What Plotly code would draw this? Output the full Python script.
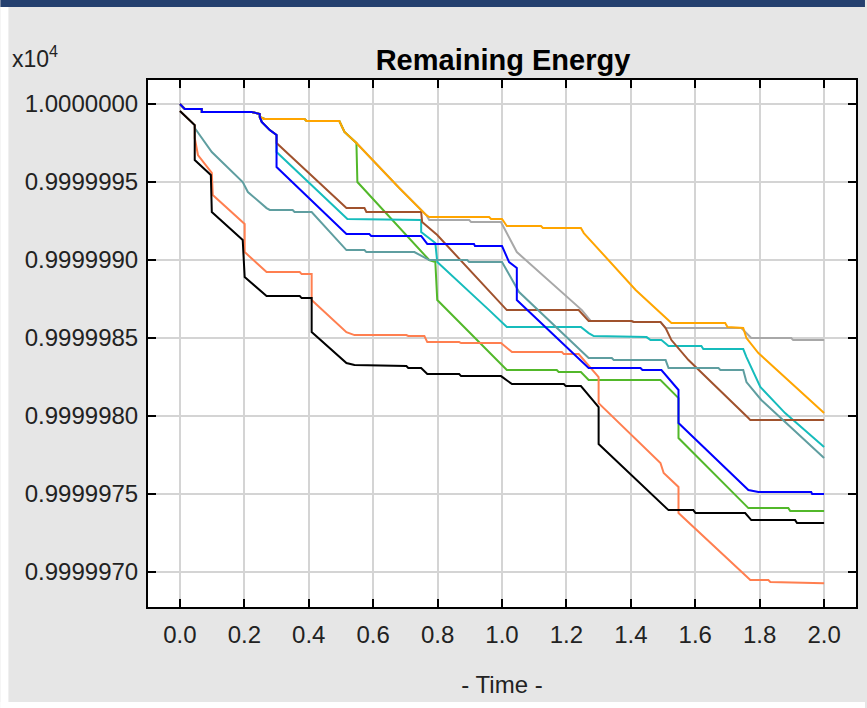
import plotly.graph_objects as go

# time (s) and consumed energy (mJ) for each node; remaining energy = 10000 J - consumed
blue_t = [0, 0.015, 0.068, 0.068, 0.223, 0.248, 0.248, 0.254, 0.279, 0.300, 0.300, 0.517, 0.588, 0.594, 0.749, 0.768, 0.913, 0.916, 1.0, 1.022, 1.046, 1.046, 1.269, 1.430, 1.436, 1.495, 1.548, 1.548, 1.765, 1.796, 1.960, 1.963, 2.0]
blue_c = [0, 0.32, 0.32, 0.51, 0.51, 0.64, 0.83, 1.15, 1.67, 1.99, 4.04, 8.33, 8.33, 8.46, 8.46, 8.97, 8.97, 9.10, 9.10, 10.13, 10.51, 12.56, 16.92, 16.92, 17.05, 17.05, 18.33, 20.45, 24.74, 24.87, 24.87, 25.00, 25.00]

orange_t = [0, 0.015, 0.068, 0.068, 0.223, 0.248, 0.248, 0.263, 0.387, 0.393, 0.495, 0.511, 0.548, 0.681, 0.765, 0.774, 0.960, 0.966, 1.000, 1.015, 1.121, 1.127, 1.245, 1.254, 1.415, 1.526, 1.693, 1.700, 1.749, 1.759, 1.796, 2.0]
orange_c = [0, 0.32, 0.32, 0.51, 0.51, 0.64, 0.83, 0.96, 0.96, 1.09, 1.09, 1.79, 2.50, 5.38, 7.12, 7.24, 7.24, 7.37, 7.37, 7.82, 7.82, 7.95, 7.95, 8.27, 11.92, 14.04, 14.04, 14.29, 14.36, 15.00, 15.96, 19.81]

gray_t = [0, 0.015, 0.068, 0.068, 0.223, 0.248, 0.248, 0.263, 0.387, 0.393, 0.495, 0.511, 0.548, 0.681, 0.765, 0.774, 0.898, 0.904, 0.997, 1.0, 1.046, 1.248, 1.276, 1.402, 1.409, 1.492, 1.508, 1.743, 1.774, 1.898, 1.904, 2.0]
gray_c = [0, 0.32, 0.32, 0.51, 0.51, 0.64, 0.83, 0.96, 0.96, 1.09, 1.09, 1.79, 2.50, 5.38, 7.12, 7.44, 7.44, 7.56, 7.56, 7.69, 9.49, 13.21, 13.91, 13.91, 13.97, 13.97, 14.36, 14.36, 15.00, 15.00, 15.13, 15.13]

green_t = [0, 0.015, 0.068, 0.068, 0.223, 0.248, 0.248, 0.263, 0.387, 0.393, 0.495, 0.511, 0.548, 0.551, 0.774, 0.793, 0.799, 1.015, 1.170, 1.176, 1.245, 1.269, 1.492, 1.548, 1.548, 1.765, 1.889, 1.895, 2.0]
green_c = [0, 0.32, 0.32, 0.51, 0.51, 0.64, 0.83, 0.96, 0.96, 1.09, 1.09, 1.79, 2.50, 5.00, 10.00, 10.13, 12.56, 17.05, 17.05, 17.18, 17.18, 17.69, 17.69, 18.85, 21.41, 25.90, 25.90, 26.09, 26.09]

brown_t = [0, 0.015, 0.068, 0.068, 0.223, 0.248, 0.248, 0.254, 0.279, 0.300, 0.300, 0.517, 0.573, 0.579, 0.749, 0.752, 0.799, 1.012, 1.015, 1.238, 1.269, 1.402, 1.409, 1.492, 1.508, 1.526, 1.579, 1.765, 1.771, 2.0]
brown_c = [0, 0.32, 0.32, 0.51, 0.51, 0.64, 0.83, 1.15, 1.67, 1.99, 2.50, 6.67, 6.67, 6.92, 6.92, 7.56, 8.40, 13.08, 13.21, 13.21, 13.91, 13.91, 13.97, 13.97, 14.36, 15.13, 16.41, 20.13, 20.26, 20.26]

cyan_t = [0, 0.015, 0.068, 0.068, 0.223, 0.248, 0.248, 0.254, 0.279, 0.300, 0.300, 0.520, 0.749, 0.749, 0.793, 0.799, 0.960, 1.015, 1.245, 1.269, 1.285, 1.449, 1.461, 1.495, 1.517, 1.619, 1.625, 1.749, 1.759, 1.802, 1.879, 2.0]
cyan_c = [0, 0.32, 0.32, 0.51, 0.51, 0.64, 0.83, 1.15, 1.67, 1.99, 3.08, 7.37, 7.44, 8.21, 8.91, 10.13, 13.21, 14.29, 14.29, 14.68, 14.87, 14.94, 15.13, 15.13, 15.51, 15.51, 15.71, 15.71, 16.22, 18.14, 19.81, 21.99]

cadet_t = [0, 0.046, 0.046, 0.099, 0.195, 0.211, 0.269, 0.279, 0.350, 0.356, 0.409, 0.517, 0.573, 0.579, 0.728, 0.774, 0.892, 0.898, 1.0, 1.053, 1.269, 1.341, 1.347, 1.508, 1.517, 1.672, 1.678, 1.749, 1.759, 1.805, 2.0]
cadet_c = [0.45, 1.35, 1.54, 3.08, 5.00, 5.64, 6.67, 6.79, 6.79, 6.92, 6.92, 9.36, 9.36, 9.49, 9.49, 10.00, 10.00, 10.13, 10.13, 12.05, 16.28, 16.28, 16.41, 16.41, 16.92, 16.92, 17.05, 17.05, 17.82, 18.97, 22.69]

salmon_t = [0, 0.046, 0.046, 0.056, 0.099, 0.102, 0.201, 0.201, 0.269, 0.372, 0.378, 0.409, 0.409, 0.517, 0.542, 0.703, 0.709, 0.759, 0.768, 0.867, 0.873, 0.997, 1.031, 1.186, 1.192, 1.238, 1.300, 1.300, 1.492, 1.502, 1.548, 1.548, 1.771, 1.827, 1.833, 2.0]
salmon_c = [0.45, 1.35, 2.18, 3.27, 4.42, 5.83, 7.69, 9.49, 10.77, 10.77, 10.90, 10.90, 12.56, 14.62, 14.81, 14.81, 14.87, 14.87, 15.26, 15.26, 15.32, 15.32, 15.90, 15.90, 16.03, 16.03, 17.50, 19.17, 23.01, 23.65, 24.55, 26.22, 30.51, 30.51, 30.64, 30.71]

black_t = [0, 0.046, 0.046, 0.096, 0.099, 0.195, 0.201, 0.269, 0.372, 0.378, 0.409, 0.409, 0.517, 0.542, 0.703, 0.709, 0.749, 0.768, 0.867, 0.873, 0.997, 1.031, 1.192, 1.198, 1.245, 1.300, 1.300, 1.517, 1.594, 1.601, 1.755, 1.774, 1.910, 1.916, 2.0]
black_c = [0.45, 1.35, 3.59, 4.55, 6.92, 8.72, 11.09, 12.31, 12.31, 12.44, 12.44, 14.62, 16.60, 16.73, 16.79, 16.92, 16.92, 17.31, 17.31, 17.44, 17.44, 17.95, 17.95, 18.08, 18.08, 19.42, 21.79, 26.03, 26.03, 26.22, 26.22, 26.67, 26.67, 26.86, 26.86]

x_ticks = [0.0, 0.2, 0.4, 0.6, 0.8, 1.0, 1.2, 1.4, 1.6, 1.8, 2.0]
y_ticks = [1.0000000, 0.9999995, 0.9999990, 0.9999985, 0.9999980, 0.9999975, 0.9999970]

series = [
    ("gray", gray_t, gray_c, "#a8a8a8"),
    ("green", green_t, green_c, "#52b82a"),
    ("cyan", cyan_t, cyan_c, "#16bcbc"),
    ("brown", brown_t, brown_c, "#a0522d"),
    ("cadet", cadet_t, cadet_c, "#5f9ea0"),
    ("salmon", salmon_t, salmon_c, "#ff7f50"),
    ("orange", orange_t, orange_c, "#ffa500"),
    ("black", black_t, black_c, "#000000"),
    ("blue", blue_t, blue_c, "#0000ff"),
]

W, H = 867, 708
L, R, T, B = 148, 858, 80, 607

fig = go.Figure()
for name, t, c, col in series:
    # remaining energy in units of 10^4 J
    y = [(10000.0 - v / 1000.0) / 10000.0 for v in c]
    fig.add_trace(go.Scatter(x=t, y=y, mode="lines", name=name,
                             line=dict(color=col, width=2), showlegend=False,
                             hoverinfo="skip"))

def px_x(p):
    return (p - L) / (R - L)

def px_y(p):
    return (B - p) / (B - T)

font = "Liberation Sans, Arial, sans-serif"
fig.update_layout(
    width=W, height=H,
    margin=dict(l=L, r=W - R, t=T, b=H - B, pad=0),
    paper_bgcolor="#e6e6e6",
    plot_bgcolor="#ffffff",
    font=dict(family=font, color="#222222"),
    title=dict(text="<b>Remaining Energy</b>", x=px_x(504), xref="paper", xanchor="center",
               y=1 - 60 / H, yref="container", yanchor="middle",
               font=dict(size=29, color="#000000", family=font)),
    xaxis=dict(range=[-0.0991, 2.0991], tickvals=x_ticks, ticktext=[f"{v:.1f}" for v in x_ticks],
               showgrid=True, gridcolor="#d4d4d4", gridwidth=2, zeroline=False,
               showline=True, linecolor="#000000", linewidth=2, mirror="ticks",
               ticks="inside", ticklen=8, tickwidth=2, tickcolor="#000000",
               tickfont=dict(size=24, color="#222222", family=font), ticklabelstandoff=5,
               title=dict(text="- Time -", font=dict(size=24, color="#222222", family=font), standoff=29)),
    yaxis=dict(range=[1 - 32.24e-7, 1 + 1.54e-7], tickvals=y_ticks, ticktext=[f"{v:.7f}" for v in y_ticks],
               showgrid=True, gridcolor="#d4d4d4", gridwidth=2, zeroline=False,
               showline=True, linecolor="#000000", linewidth=2, mirror="ticks",
               ticks="inside", ticklen=8, tickwidth=2, tickcolor="#000000",
               tickfont=dict(size=24, color="#222222", family=font), ticklabelstandoff=3),
    shapes=[
        dict(type="rect", xref="paper", yref="paper", x0=px_x(0), x1=px_x(W), y0=px_y(7), y1=px_y(0),
             fillcolor="#24406f", line=dict(width=0), layer="above"),
        dict(type="rect", xref="paper", yref="paper", x0=px_x(0), x1=px_x(8), y0=px_y(H), y1=px_y(7),
             fillcolor="#ffffff", line=dict(width=0), layer="above"),
        dict(type="rect", xref="paper", yref="paper", x0=px_x(0), x1=px_x(W), y0=px_y(H), y1=px_y(702),
             fillcolor="#ffffff", line=dict(width=0), layer="above"),
    ],
    annotations=[
        dict(text="x10<sup>4</sup>", xref="paper", yref="paper", x=px_x(10), y=px_y(74),
             xanchor="left", yanchor="bottom", showarrow=False,
             font=dict(size=23, color="#222222", family=font)),
    ],
)

fig.write_html("out.html", config={"displayModeBar": False},
               post_script="document.body.style.margin='0';document.body.style.padding='0';")
